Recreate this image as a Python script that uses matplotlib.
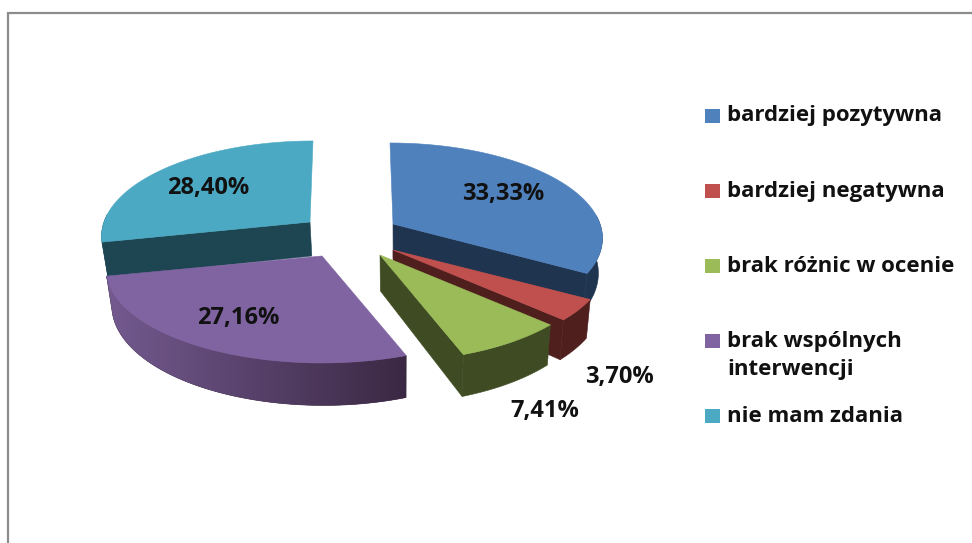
import numpy as np
import matplotlib
matplotlib.use('Agg')
import matplotlib.pyplot as plt
from matplotlib.colors import LinearSegmentedColormap
from matplotlib.patches import Polygon, Rectangle

labels = [['bardziej pozytywna'], ['bardziej negatywna'], ['brak różnic w ocenie'],
          ['brak wspólnych', 'interwencji'], ['nie mam zdania']]
values = [33.33, 3.70, 7.41, 27.16, 28.40]
value_labels = ['33,33%', '3,70%', '7,41%', '27,16%', '28,40%']

top_colors = ['#4F81BD', '#C0504D', '#9BBB59', '#8064A2', '#4BA9C3']
wall_colors = ['#1F344F', '#4F1F1E', '#3F4C23', '#3A2843', '#1E4652']
rim_left = ['#1F344F', '#4F1F1E', '#3F4C23', '#745A90', '#1E4652']

# exploded apex of each slice in pixels, and its radius
apex_x = [393, 393, 380, 322, 310]
apex_y = [224, 250, 255, 256, 222]
radius_x = [207, 212, 212, 214, 206]
rim_shear = [-3, 0, 0, 0, 3]
# which cut face can be seen (0 start, -1 end, None neither)
cut_face = [-1, -1, -1, None, 0]
label_x = [503, 619, 545, 238, 208]
label_y = [194, 377, 411, 318, 188]
legend_y = [116, 191, 266, 341, 416]

radius_y = 92.2
persp = 0.138
font = 'Open Sans'


def rim(i, theta):
    w = 1 + persp * np.cos(theta)
    return (apex_x[i] + radius_x[i] * np.sin(theta) / w + rim_shear[i] * np.cos(theta),
            apex_y[i] - radius_y * np.cos(theta) / w)


def drop(x, y):
    # bottom face of the extrusion, a bit nearer to the vanishing line
    return x + 0.02 * (400 - x), y + 34 + 0.06 * (y - 222)


fig = plt.figure(figsize=(9.72, 5.43), dpi=100)
ax = fig.add_axes([0, 0, 1, 1])
ax.axis('off')

ax.plot([7.5, 7.5, 972], [543, 12.5, 12.5], color='#8C8C8C', lw=1.6, solid_joinstyle='miter')

edges = np.cumsum([0] + values) / sum(values) * 2 * np.pi

for i in [4, 0, 1, 2, 3]:
    t = np.linspace(edges[i], edges[i + 1], 120)
    x, y = rim(i, t)
    bx, by = drop(x, y)
    ax0, ay0 = apex_x[i], apex_y[i]
    bx0, by0 = drop(ax0, ay0)

    # outer side, only the part facing the viewer, shaded along x
    front = np.cos(t) < 0.1
    outer = Polygon(np.vstack([np.column_stack([x[front], y[front]]),
                               np.column_stack([bx[front], by[front]])[::-1]]),
                    closed=True, fc=wall_colors[i], ec=wall_colors[i], lw=0.4, zorder=1)
    ax.add_patch(outer)
    if rim_left[i] != wall_colors[i]:
        cmap = LinearSegmentedColormap.from_list('rim', [rim_left[i], wall_colors[i]])
        im = ax.imshow(np.linspace(0, 1, 256).reshape(1, -1), cmap=cmap, aspect='auto',
                       extent=[x.min() - 2, x.max() + 2, by.max() + 2, y.min() - 2], zorder=1)
        im.set_clip_path(outer)

    k = cut_face[i]
    if k is not None:
        ax.add_patch(Polygon([(ax0, ay0), (x[k], y[k]), (bx[k], by[k]), (bx0, by0)],
                             closed=True, fc=wall_colors[i], ec=wall_colors[i], lw=0.4, zorder=1))

    ax.add_patch(Polygon(np.vstack([[ax0, ay0], np.column_stack([x, y])]), closed=True,
                         fc=top_colors[i], ec=top_colors[i], lw=0.4, zorder=1))

for i in range(len(values)):
    ax.text(label_x[i], label_y[i], value_labels[i], ha='center', va='center',
            fontsize=17, fontweight='bold', family=font, color='#111111')
    ax.add_patch(Rectangle((705, legend_y[i] - 7), 15, 14, fc=top_colors[i], ec='none'))
    for n, line in enumerate(labels[i]):
        ax.text(727, legend_y[i] + 29 * n, line, ha='left', va='center',
                fontsize=16, fontweight='bold', family=font, color='#111111')

ax.set_xlim(0, 972)
ax.set_ylim(543, 0)

plt.savefig('out.png', dpi=100)
